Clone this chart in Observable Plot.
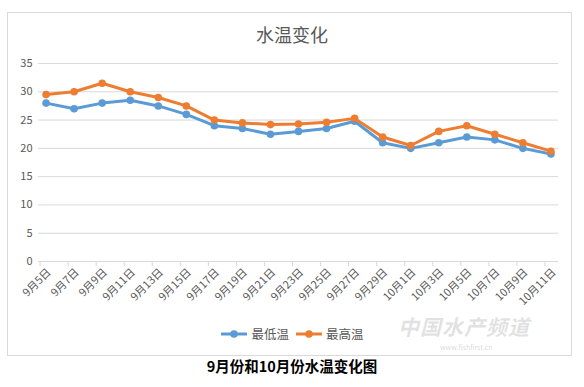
<!DOCTYPE html>
<html>
<head>
<meta charset="utf-8">
<script src="https://cdn.jsdelivr.net/npm/d3@7"></script>
<script src="https://cdn.jsdelivr.net/npm/@observablehq/plot@0.6"></script>
<style>
  html, body { margin: 0; padding: 0; background: #fff; }
  body { width: 584px; height: 387px; position: relative; overflow: hidden; font-family: "Noto Sans CJK SC", "Noto Sans", sans-serif; }
  #frame { position: absolute; left: 7px; top: 12px; width: 565px; height: 344px; border: 1px solid #d9d9d9; box-sizing: border-box; }
  #title { position: absolute; left: 0; width: 584px; top: 22px; text-align: center; font-size: 18px; color: #595959; line-height: 24px; }
  #chart { position: absolute; left: 0; top: 0; }
  #legend { position: absolute; left: 0; width: 584px; top: 324px; display: flex; justify-content: center; align-items: center; gap: 6px; font-size: 12.5px; color: #595959; }
  #legend span.item { display: inline-flex; align-items: center; gap: 3px; }
  #caption { position: absolute; left: 0; width: 584px; top: 356px; text-align: center; font-size: 14.5px; font-weight: 700; color: #000; line-height: 20px; }
  #wm { position: absolute; left: 398px; top: 315px; font-size: 21px; line-height: 22px; color: rgba(120,120,120,0.22); letter-spacing: 1px; font-weight: 700; font-style: italic; }
  #wm2 { position: absolute; left: 440px; top: 343px; font-size: 7px; line-height: 8px; color: rgba(120,120,120,0.3); }
</style>
</head>
<body>
<div id="frame"></div>
<div id="title">水温变化</div>
<div id="chart"></div>
<div id="legend"></div>
<div id="caption">9月份和10月份水温变化图</div>
<div id="wm">中国水产频道</div>
<div id="wm2">www.fishfirst.cn</div>
<script>
const dates = ["9月5日","9月7日","9月9日","9月11日","9月13日","9月15日","9月17日","9月19日","9月21日","9月23日","9月25日","9月27日","9月29日","10月1日","10月3日","10月5日","10月7日","10月9日","10月11日"];
const seriesNames = ["最低温", "最高温"];
const minTemp = [28, 27, 28, 28.5, 27.5, 26, 24, 23.5, 22.5, 23, 23.5, 24.8, 21, 20, 21, 22, 21.5, 20, 19];
const maxTemp = [29.5, 30, 31.5, 30, 29, 27.5, 25, 24.5, 24.2, 24.3, 24.6, 25.3, 22, 20.5, 23, 24, 22.5, 21, 19.5];
const colors = ["#5b9bd5", "#ed7d31"];
const yTicks = [0, 5, 10, 15, 20, 25, 30, 35];

const data = [];
dates.forEach((d, i) => {
  data.push({date: d, series: seriesNames[0], value: minTemp[i]});
  data.push({date: d, series: seriesNames[1], value: maxTemp[i]});
});

const textColor = "#595959";
const gridColor = "#d9d9d9";

const chart = Plot.plot({
  width: 584,
  height: 315,
  marginLeft: 38,
  marginRight: 26,
  marginTop: 63,
  marginBottom: 54,
  style: {fontFamily: '"Noto Sans CJK SC", "Noto Sans", sans-serif', fontSize: "11px", color: textColor, background: "transparent"},
  x: {type: "point", domain: dates, padding: 0.27, round: false, label: null},
  y: {domain: [0, 35], label: null},
  color: {domain: seriesNames, range: colors},
  marks: [
    Plot.gridY(yTicks.filter(t => t > 0), {stroke: gridColor, strokeOpacity: 1}),
    Plot.ruleY([0], {stroke: gridColor, strokeWidth: 1}),
    Plot.axisY(yTicks, {tickSize: 0, tickPadding: 6, fill: textColor, fontSize: 11}),
    Plot.axisX({tickSize: 5, tickFormat: null, stroke: gridColor, strokeOpacity: 1, dx: -6}),
    Plot.axisX({tickSize: 0, tickPadding: 9, tickRotate: -45, fill: textColor, fontSize: 11, textAnchor: "end", dx: 3}),
    Plot.line(data.filter(d => d.series === seriesNames[0]), {x: "date", y: "value", stroke: colors[0], strokeWidth: 3}),
    Plot.dot(data.filter(d => d.series === seriesNames[0]), {x: "date", y: "value", fill: colors[0], r: 3.8, stroke: null}),
    Plot.line(data.filter(d => d.series === seriesNames[1]), {x: "date", y: "value", stroke: colors[1], strokeWidth: 3}),
    Plot.dot(data.filter(d => d.series === seriesNames[1]), {x: "date", y: "value", fill: colors[1], r: 3.8, stroke: null})
  ]
});
document.getElementById("chart").appendChild(chart);

const legend = document.getElementById("legend");
seriesNames.forEach((name, i) => {
  const item = document.createElement("span");
  item.className = "item";
  item.innerHTML = `<svg width="28" height="10"><line x1="1" y1="5" x2="27" y2="5" stroke="${colors[i]}" stroke-width="3"/><circle cx="14" cy="5" r="3.8" fill="${colors[i]}"/></svg><span>${name}</span>`;
  legend.appendChild(item);
});
</script>
</body>
</html>
